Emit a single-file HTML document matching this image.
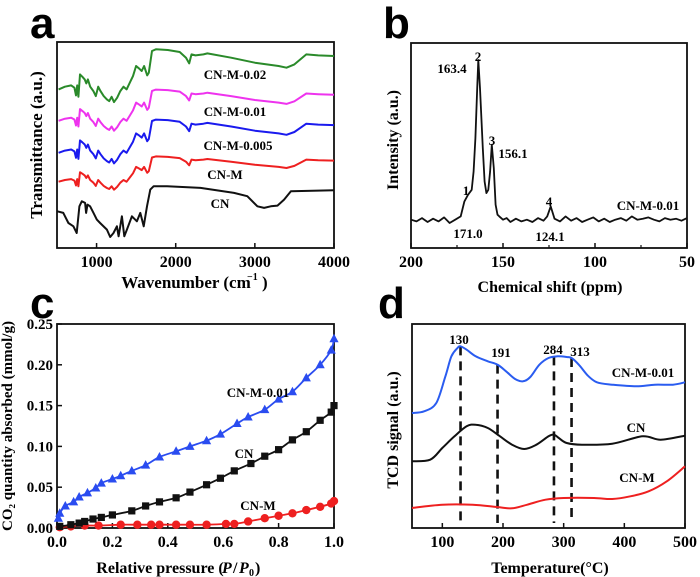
<!DOCTYPE html>
<html><head><meta charset="utf-8"><style>
html,body{margin:0;padding:0;background:#fff;}
svg{display:block;font-family:"Liberation Serif",serif;font-weight:bold;}
.pl{font-family:"Liberation Sans",sans-serif;font-weight:bold;font-size:44px;}
</style></head><body>
<svg id="fig" width="700" height="577" viewBox="0 0 700 577" xmlns="http://www.w3.org/2000/svg"></svg>
<script>
// ---------- Panel a data (FTIR) ----------
const aShapeWn=[520,600,680,720,740,755,770,790,820,850,870,890,920,960,990,1020,1050,1090,1130,1160,1190,1220,1260,1300,1340,1380,1420,1460,1500,1540,1570,1600,1640,1660,1700,1750,1900,2050,2130,2170,2200,2250,2350,2400,2700,3000,3300,3400,3500,3650,3800,4000];
const aShapeV=[475,483,487,480,457,487,453,520,513,505,493,505,483,470,455,483,470,455,445,440,453,437,450,470,483,475,495,515,545,537,530,545,517,525,590,595,593,587,570,553,580,577,580,583,570,555,545,540,550,580,577,575];
const aSeriesNames=["CN-M-0.02","CN-M-0.01","CN-M-0.005","CN-M"];
const aPlateaus=[593,473,383,273];
const aScales=[1,0.78,0.83,0.63];
const aColors=["#2a8a2a","#ee33ee","#1a1aee","#ee2020"];
const cnWn=[504,580,644,707,749,783,813,855,868,885,918,961,1003,1045,1130,1172,1214,1257,1278,1320,1350,1383,1447,1510,1553,1595,1637,1679,1722,1891,2313,2736,2905,3032,3117,3201,3286,3370,3455,4004];
const cnV=[110,105,75,65,45,125,140,135,105,130,125,105,85,75,55,33,45,65,35,95,35,55,95,80,105,65,125,175,185,185,180,165,155,125,120,125,127,145,170,173];
const aTicks=[1000,2000,3000,4000];
// ---------- Panel b data (NMR) ----------
const bPpm=[200,197,194,191,188,185,182,179,176,173,171,169,167,166,165,164,163.4,162.5,161,160,159,158,157,156.1,155,154,153,152,150,148,146,143,140,137,134,131,128,126,124.1,122,119,116,113,110,107,104,101,98,95,92,89,86,83,80,77,74,71,68,65,62,59,56,53,50];
const bV=[85,80,90,78,88,80,92,75,85,95,140,160,175,230,330,480,565,480,300,200,165,175,230,310,240,130,100,95,85,90,78,88,80,85,78,90,82,95,125,88,80,95,82,90,78,85,92,80,88,78,85,90,82,95,85,88,92,85,80,90,85,88,82,90];
const bTicks=[200,150,100,50];
// ---------- Panel c data (CO2 adsorption) ----------
const cBlueX=[0.005,0.01,0.03,0.06,0.08,0.11,0.14,0.16,0.2,0.23,0.27,0.32,0.37,0.43,0.48,0.54,0.59,0.65,0.69,0.75,0.8,0.85,0.9,0.95,0.99,1.0];
const cBlueY=[0.012,0.018,0.027,0.032,0.038,0.043,0.049,0.055,0.06,0.064,0.07,0.077,0.087,0.094,0.1,0.107,0.115,0.128,0.136,0.145,0.158,0.167,0.184,0.2,0.218,0.232];
const cBlackX=[0.01,0.05,0.08,0.1,0.13,0.16,0.2,0.27,0.32,0.37,0.43,0.48,0.54,0.59,0.64,0.7,0.75,0.8,0.85,0.9,0.95,0.99,1.0];
const cBlackY=[0.002,0.004,0.006,0.008,0.011,0.013,0.016,0.021,0.027,0.032,0.037,0.044,0.053,0.061,0.07,0.079,0.088,0.096,0.108,0.118,0.132,0.142,0.15];
const cRedX=[0.01,0.05,0.1,0.15,0.23,0.29,0.34,0.37,0.43,0.48,0.54,0.61,0.64,0.69,0.75,0.8,0.85,0.9,0.95,0.99,1.0];
const cRedY=[0.001,0.002,0.003,0.003,0.004,0.004,0.004,0.004,0.004,0.004,0.004,0.005,0.005,0.008,0.012,0.015,0.018,0.022,0.026,0.03,0.033];
const cXTicks=[0,0.2,0.4,0.6,0.8,1.0];
const cXLabels=["0.0","0.2","0.4","0.6","0.8","1.0"];
const cYTicks=[0,0.05,0.1,0.15,0.2,0.25];
const cYLabels=["0.00","0.05","0.10","0.15","0.20","0.25"];
// ---------- Panel d data (TPD) ----------
const dBlueT=[50,70,90,105,115,125,130,140,155,175,191,205,220,233,245,260,275,290,305,313,325,340,355,380,420,450,480,500];
const dBlueV=[345,350,375,455,515,540,545,535,515,500,490,470,447,440,453,490,510,515,513,510,490,457,437,430,425,430,430,437];
const dBlackT=[50,80,100,120,140,155,175,195,215,235,255,275,284,292,305,330,380,430,460,500];
const dBlackV=[200,205,240,275,305,310,300,275,250,237,250,275,280,270,255,250,253,275,265,277];
const dRedT=[50,100,150,190,215,240,270,300,350,380,410,440,470,500];
const dRedV=[60,70,70,63,59,70,85,90,90,87,95,110,140,185];
const dPeaks=[130,191,284,313];
const dPeakTops=[545,490,515,510];
const dTicks=[100,200,300,400,500];

const NS="http://www.w3.org/2000/svg";
const svg=document.getElementById('fig');
function mk(tag,attrs,parent){const e=document.createElementNS(NS,tag);for(const k in attrs)e.setAttribute(k,attrs[k]);(parent||svg).appendChild(e);return e;}
function txt(s,x,y,size,anchor,parent,name){const t=mk('text',{x:x,y:y,'font-size':size,'text-anchor':anchor||'middle'},parent);t.textContent=s;


return t;}
function lin(d0,d1,r0,r1){return v=>r0+(v-d0)/(d1-d0)*(r1-r0);}
function path(xs,ys,fx,fy,stroke,w,parent,name,smooth){
const P=xs.map((x,i)=>[fx(x),fy(ys[i])]);let d='M'+P[0][0].toFixed(1)+','+P[0][1].toFixed(1);
for(let i=1;i<P.length;i++){
 if(smooth){const p0=P[Math.max(0,i-2)],p1=P[i-1],p2=P[i],p3=P[Math.min(P.length-1,i+1)];
  const c1=[p1[0]+(p2[0]-p0[0])/6,p1[1]+(p2[1]-p0[1])/6],c2=[p2[0]-(p3[0]-p1[0])/6,p2[1]-(p3[1]-p1[1])/6];
  d+='C'+c1.map(v=>v.toFixed(1)).join(',')+' '+c2.map(v=>v.toFixed(1)).join(',')+' '+p2[0].toFixed(1)+','+p2[1].toFixed(1);}
 else d+='L'+P[i][0].toFixed(1)+','+P[i][1].toFixed(1);}
const p=mk('path',{d:d,fill:'none',stroke:stroke,'stroke-width':w,'stroke-linejoin':'round'},parent);


return p;}
function frame(x0,y0,x1,y1,g){const r=mk('rect',{x:x0,y:y0,width:x1-x0,height:y1-y0,fill:'none',stroke:'#111','stroke-width':1.8},g);

}
function xticks(vals,labels,fx,y1,g,size){vals.forEach((v,i)=>{mk('line',{x1:fx(v),x2:fx(v),y1:y1,y2:y1-5,stroke:'#111','stroke-width':1.5},g);txt(labels[i],fx(v),y1+19,size||16,'middle',g,'x-tick-label');});}
function panel(name){const g=mk('g',{});return g;}

// ===== Panel a =====
(function(){const g=panel('panel-a');
const X0=57,X1=334,Y0=42,Y1=248;
const fx=lin(500,4000,X0,X1), fy=lin(0,617,Y1,Y0);
txt('a',30,38,44,'start',g,'panel-label-a').setAttribute('class','pl');
frame(X0,Y0,X1,Y1,g);
path(cnWn,cnV,fx,fy,'#111',2,g,'series-cn');
aSeriesNames.forEach((n,i)=>{const ys=aShapeV.map(v=>aPlateaus[i]+(v-593)*aScales[i]);path(aShapeWn,ys,fx,fy,aColors[i],2,g,'series-'+n.toLowerCase().replace(/\./g,''));});
xticks(aTicks,aTicks.map(String),fx,Y1,g);
[["CN-M-0.02",235,79],["CN-M-0.01",235,116],["CN-M-0.005",238,150],["CN-M",225,179],["CN",220,208]].forEach(a=>txt(a[0],a[1],a[2],13,'middle',g,'series-label'));
txt('Wavenumber (cm',186,288,17,'middle',g,'x-axis-title');
txt('−1',247,280,10,'start',g,'x-axis-title-sup');txt(')',262,288,17,'start',g,'x-axis-title-close');
const yt=txt('Transmittance (a.u.)',0,0,17,'middle',g,'y-axis-title');yt.setAttribute('transform','translate(42,145) rotate(-90)');
})();

// ===== Panel b =====
(function(){const g=panel('panel-b');
const X0=411,X1=687,Y0=43,Y1=248;
const fx=lin(200,50,X0,X1), fy=lin(0,565,Y1,60);
txt('b',383,38,44,'start',g,'panel-label-b').setAttribute('class','pl');
frame(X0,Y0,X1,Y1,g);
path(bPpm,bV,fx,fy,'#111',1.8,g,'nmr-spectrum');
xticks(bTicks,bTicks.map(String),fx,Y1,g);
[175,125,75].forEach(v=>mk('line',{x1:fx(v),x2:fx(v),y1:Y1,y2:Y1-3,stroke:'#111','stroke-width':1.2},g));
[["163.4",452,73],["2",478,61],["3",492,145],["156.1",513,158],["1",466,195],["171.0",468,238],["4",549,206],["124.1",550,241],["CN-M-0.01",648,210]].forEach(a=>txt(a[0],a[1],a[2],13,'middle',g,'peak-label'));
txt('Chemical shift (ppm)',550,292,16,'middle',g,'x-axis-title');
const yt=txt('Intensity (a.u.)',0,0,16,'middle',g,'y-axis-title');yt.setAttribute('transform','translate(398,140) rotate(-90)');
})();

// ===== Panel c =====
(function(){const g=panel('panel-c');
const X0=57,X1=334,Y0=324,Y1=528;
const fx=lin(0,1,X0,X1), fy=lin(0,0.25,Y1,Y0);
txt('c',30,318,44,'start',g,'panel-label-c').setAttribute('class','pl');
frame(X0,Y0,X1,Y1,g);
xticks(cXTicks,cXLabels,fx,Y1,g);
cYTicks.forEach((v,i)=>{mk('line',{x1:X0,x2:X0+5,y1:fy(v),y2:fy(v),stroke:'#111','stroke-width':1.5},g);txt(cYLabels[i],X0-4,fy(v)+5,15,'end',g,'y-tick-label');});
path(cRedX,cRedY,fx,fy,'#ee2020',1.8,g,'series-cn-m-line',true);
cRedX.forEach((x,i)=>{const c=mk('circle',{cx:fx(x),cy:fy(cRedY[i]),r:4.2,fill:'#ee2020'},g);});
path(cBlackX,cBlackY,fx,fy,'#111',1.8,g,'series-cn-line',true);
cBlackX.forEach((x,i)=>{const r=mk('rect',{x:fx(x)-3.6,y:fy(cBlackY[i])-3.6,width:7.2,height:7.2,fill:'#111'},g);});
path(cBlueX,cBlueY,fx,fy,'#2a4cf0',1.8,g,'series-cn-m-001-line',true);
cBlueX.forEach((x,i)=>{const px=fx(x),py=fy(cBlueY[i]);const t=mk('polygon',{points:`${px},${py-5} ${px-4.6},${py+3.5} ${px+4.6},${py+3.5}`,fill:'#2a4cf0'},g);});
[["CN-M-0.01",258,397],["CN",244,458],["CN-M",258,510]].forEach(a=>txt(a[0],a[1],a[2],13,'middle',g,'series-label'));
txt('Relative pressure (',160,573,16,'middle',g,'x-axis-title');
txt('P',222,573,16,'start',g,'x-axis-title-p').setAttribute('font-style','italic');
txt('/',233,573,16,'start',g,'x-axis-title-slash');
txt('P',239,573,16,'start',g,'x-axis-title-p0').setAttribute('font-style','italic');
txt('0',249,576,10,'start',g,'x-axis-title-sub');
txt(')',255,573,16,'start',g,'x-axis-title-close');
const yt=txt('CO₂ quantity absorbed (mmol/g)',0,0,15,'middle',g,'y-axis-title');yt.setAttribute('transform','translate(12,426) rotate(-90)');
})();

// ===== Panel d =====
(function(){const g=panel('panel-d');
const X0=412,X1=685,Y0=324,Y1=528;
const fx=lin(50,500,X0,X1), fy=lin(0,612,Y1,Y0);
txt('d',378,318,44,'start',g,'panel-label-d').setAttribute('class','pl');
frame(X0,Y0,X1,Y1,g);
xticks(dTicks,dTicks.map(String),fx,Y1,g);
dPeaks.forEach((t,i)=>{const l=mk('line',{x1:fx(t),x2:fx(t),y1:fy(dPeakTops[i]),y2:fy(15),stroke:'#111','stroke-width':2.6,'stroke-dasharray':'9,6'},g);});
path(dRedT,dRedV,fx,fy,'#ee2020',2,g,'series-cn-m',true);
path(dBlackT,dBlackV,fx,fy,'#111',2,g,'series-cn',true);
path(dBlueT,dBlueV,fx,fy,'#2a5cf0',2,g,'series-cn-m-001',true);
[["130",459,344],["191",501,357],["284",553,354],["313",580,356]].forEach(a=>txt(a[0],a[1],a[2],13,'middle',g,'peak-label'));
[["CN-M-0.01",643,377],["CN",636,432],["CN-M",637,482]].forEach(a=>txt(a[0],a[1],a[2],13,'middle',g,'series-label'));
txt('Temperature(°C)',550,573,16,'middle',g,'x-axis-title');
const yt=txt('TCD signal (a.u.)',0,0,16,'middle',g,'y-axis-title');yt.setAttribute('transform','translate(398,430) rotate(-90)');
})();
</script>
</body></html>
